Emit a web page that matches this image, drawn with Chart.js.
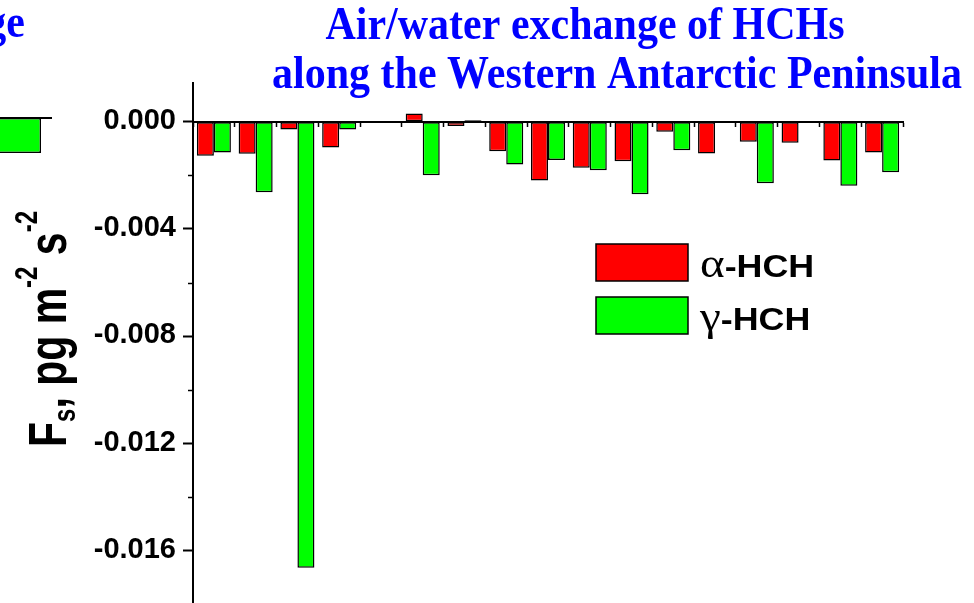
<!DOCTYPE html>
<html>
<head>
<meta charset="utf-8">
<script src="https://cdn.jsdelivr.net/npm/chart.js@4/dist/chart.umd.min.js"></script>
<style>
  html, body { margin: 0; padding: 0; background: #fff; overflow: hidden; width: 974px; height: 603px; }
  #side { position: absolute; left: -148px; top: 0; }
  #main { position: absolute; left: 0; top: 0; }
</style>
</head>
<body>
<canvas id="side" width="200" height="660"></canvas>
<canvas id="main" width="974" height="660"></canvas>
<script>
// Sampling stations along the Western Antarctic Peninsula (not labelled on the axis)
const stations = ['S1', 'S2', 'S3', 'S4', 'S5', 'S6', 'S7', 'S8', 'S9',
                  'S10', 'S11', 'S12', 'S13', 'S14', 'S15', 'S16', 'S17'];

// Air/water exchange flux Fs, pg m-2 s-1
const alphaHCH = [-0.00127, -0.00120, -0.00029, -0.00096, -0.00005, 0.00030, -0.00016, -0.00110, -0.00219,
                  -0.00172, -0.00148, -0.00038, -0.00119, -0.00075, -0.00079, -0.00145, -0.00115];
const gammaHCH = [-0.00115, -0.00263, -0.01663, -0.00029, -0.00002, -0.00200, 0.00005, -0.00160, -0.00143,
                  -0.00181, -0.00271, -0.00107, null, -0.00230, null, -0.00239, -0.00189];

// Value axis
const yMin = -0.018;
const yMax = 0.00144;
const yStep = 0.002;        // every tick mark
const yLabelEvery = 2;      // label every second tick (0.004)

// Right-hand end of the neighbouring panel
const sideLabels = ['S17'];
const sideGamma = [-0.0013];

const SANS = '"Liberation Sans", Arial, sans-serif';
const SERIF = '"Liberation Serif", "Times New Roman", serif';
const BLUE = '#0000ff';

const isLabelled = v => Math.round(v / yStep) % yLabelEvery === 0;

// Minor ticks on the value axis, shorter than the labelled ones
const minorTicks = {
  id: 'minorTicks',
  afterDraw(chart) {
    const ctx = chart.ctx, y = chart.scales.y, x0 = chart.chartArea.left;
    ctx.save();
    ctx.strokeStyle = '#000';
    ctx.lineWidth = 1.5;
    for (let k = Math.ceil(yMin / yStep); k <= Math.floor(yMax / yStep); k++) {
      if (k % yLabelEvery === 0) continue;
      const py = Math.round(y.getPixelForValue(k * yStep)) + 0.5;
      ctx.beginPath();
      ctx.moveTo(x0 - 5, py);
      ctx.lineTo(x0, py);
      ctx.stroke();
    }
    ctx.restore();
  }
};

// Rotated axis title with subscript and superscripts
const axisTitle = {
  id: 'axisTitle',
  afterDraw(chart) {
    const ctx = chart.ctx;
    const big = 41, small = 24;
    const parts = [['F', big, 0], ['s', small, 7], [',', big, 0], [' pg m', big, 0],
                   ['-2', small, -22], [' s', big, 0], ['-2', small, -22]];
    ctx.save();
    ctx.translate(66, 447);
    ctx.rotate(-Math.PI / 2);
    ctx.scale(1, 1.3);
    ctx.fillStyle = '#000';
    ctx.textAlign = 'left';
    ctx.textBaseline = 'alphabetic';
    let x = 0;
    for (const [t, size, dy] of parts) {
      ctx.font = `bold ${size}px ${SANS}`;
      ctx.fillText(t, x, dy);
      x += ctx.measureText(t).width;
    }
    ctx.restore();
  }
};

// Two-line heading
const heading = {
  id: 'heading',
  afterDraw(chart) {
    const ctx = chart.ctx, left = chart.chartArea.left;
    const lines = [['Air/water exchange of HCHs', left + 392, 39],
                   ['along the Western Antarctic Peninsula', left + 424, 88]];
    ctx.save();
    ctx.fillStyle = BLUE;
    ctx.font = `bold 42px ${SERIF}`;
    ctx.textAlign = 'center';
    ctx.textBaseline = 'alphabetic';
    for (const [t, cx, by] of lines) {
      ctx.save();
      ctx.translate(cx, by);
      ctx.scale(1, 1.08);
      ctx.fillText(t, 0, 0);
      ctx.restore();
    }
    ctx.restore();
  }
};

// Legend inside the plot: coloured box, Greek letter in serif, the rest in bold sans
const legendBoxes = {
  id: 'legendBoxes',
  afterDraw(chart) {
    const ctx = chart.ctx, left = chart.chartArea.left;
    const boxX = left + 403, boxW = 92, boxH = 37;
    chart.data.datasets.forEach((ds, i) => {
      const top = 244 + i * 53;
      ctx.save();
      ctx.fillStyle = ds.backgroundColor;
      ctx.fillRect(boxX, top, boxW, boxH);
      ctx.strokeStyle = '#000';
      ctx.lineWidth = 1.5;
      ctx.strokeRect(boxX, top, boxW, boxH);
      ctx.translate(boxX + 104, top + 33);
      ctx.scale(1.12, 1);
      ctx.fillStyle = '#000';
      ctx.textBaseline = 'alphabetic';
      ctx.font = `42px ${SERIF}`;
      const greek = ds.label.charAt(0);
      ctx.fillText(greek, 0, 0);
      const w = ctx.measureText(greek).width;
      ctx.font = `bold 32px ${SANS}`;
      ctx.fillText(ds.label.slice(1), w, 0);
      ctx.restore();
    });
  }
};

new Chart(document.getElementById('main'), {
  type: 'bar',
  data: {
    labels: stations,
    datasets: [
      { label: 'α-HCH', data: alphaHCH, backgroundColor: '#ff0000', borderColor: '#000',
        borderWidth: 1.5, borderSkipped: false },
      { label: 'γ-HCH', data: gammaHCH, backgroundColor: '#00ff00', borderColor: '#000',
        borderWidth: 1.5, borderSkipped: false }
    ]
  },
  options: {
    responsive: false,
    animation: false,
    devicePixelRatio: 1,
    categoryPercentage: 0.815,
    barPercentage: 1.0,
    layout: { padding: { top: 83, right: 71, bottom: 55.4, left: 0 } },
    plugins: {
      legend: { display: false },
      title: { display: false },
      tooltip: { enabled: false }
    },
    scales: {
      x: {
        position: { y: 0 },
        z: 1,
        ticks: { display: false },
        grid: { drawOnChartArea: false, drawTicks: true, tickLength: 4, tickWidth: 1.5, tickColor: '#000' },
        border: { display: true, color: '#000', width: 2 }
      },
      y: {
        min: yMin,
        max: yMax,
        position: 'left',
        afterFit(scale) { scale.width = 193; },
        ticks: {
          stepSize: yStep,
          includeBounds: false,
          autoSkip: false,
          padding: 7,
          labelOffset: -1,
          color: '#000',
          font: { family: SANS, weight: 'bold', size: 29 },
          callback(v) {
            if (!isLabelled(v)) return '';
            const r = Math.round(v / yStep) * yStep;
            return (Math.abs(r) < 1e-12 ? 0 : r).toFixed(3);
          }
        },
        grid: {
          drawOnChartArea: false,
          tickLength: 10,
          tickWidth: 2,
          tickColor: c => (c.tick && isLabelled(c.tick.value)) ? '#000' : 'rgba(0,0,0,0)'
        },
        border: { display: true, color: '#000', width: 2 }
      }
    }
  },
  plugins: [minorTicks, axisTitle, heading, legendBoxes]
});

// Neighbouring panel's heading tail
const sideHeading = {
  id: 'sideHeading',
  afterDraw(chart) {
    const ctx = chart.ctx;
    ctx.save();
    ctx.fillStyle = BLUE;
    ctx.font = `bold 42px ${SERIF}`;
    ctx.textAlign = 'right';
    ctx.translate(173, 37);
    ctx.scale(1, 1.08);
    ctx.fillText('exchange', 0, 0);
    ctx.restore();
  }
};

new Chart(document.getElementById('side'), {
  type: 'bar',
  data: {
    labels: sideLabels,
    datasets: [{ label: 'γ-HCH', data: sideGamma, backgroundColor: '#00ff00', borderColor: '#000',
                 borderWidth: 1.5, borderSkipped: false, categoryPercentage: 0.78, barPercentage: 1.0 }]
  },
  options: {
    responsive: false,
    animation: false,
    devicePixelRatio: 1,
    layout: { padding: { top: 79.4, bottom: 59, left: 100, right: 0 } },
    plugins: { legend: { display: false }, tooltip: { enabled: false } },
    scales: {
      x: { position: { y: 0 }, z: 1, ticks: { display: false }, grid: { display: false },
           border: { display: true, color: '#000', width: 2 } },
      y: { display: false, min: yMin, max: yMax }
    }
  },
  plugins: [sideHeading]
});
</script>
</body>
</html>
